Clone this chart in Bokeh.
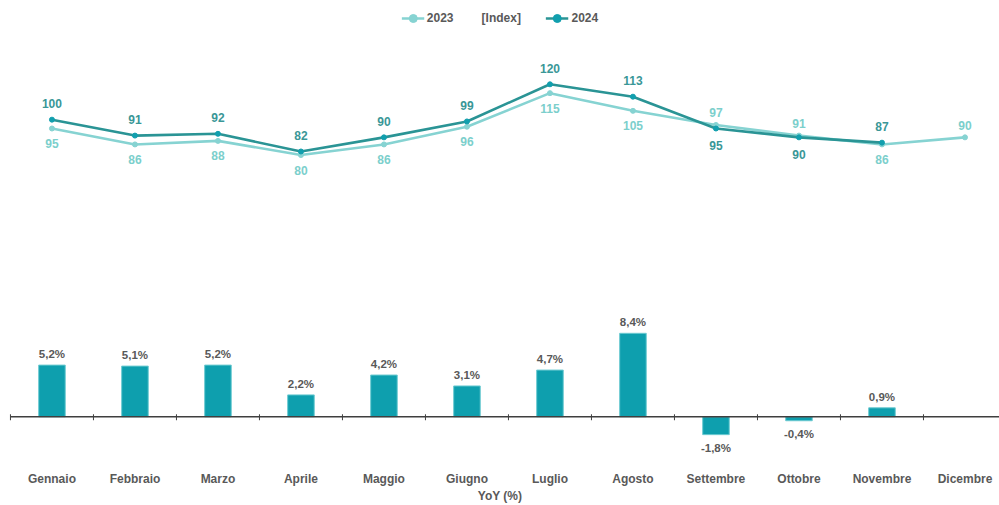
from bokeh.plotting import figure
from bokeh.models import (Range1d, LinearAxis, FixedTicker, Legend, LegendItem,
                          ColumnDataSource, Label)
from bokeh.core.properties import value
from bokeh.embed import file_html
from bokeh.resources import INLINE

# ---------------- data ----------------
months = ["Gennaio", "Febbraio", "Marzo", "Aprile", "Maggio", "Giugno",
          "Luglio", "Agosto", "Settembre", "Ottobre", "Novembre", "Dicembre"]
idx_2023 = [95, 86, 88, 80, 86, 96, 115, 105, 97, 91, 86, 90]
idx_2024 = [100, 91, 92, 82, 90, 99, 120, 113, 95, 90, 87]
yoy = [5.2, 5.1, 5.2, 2.2, 4.2, 3.1, 4.7, 8.4, -1.8, -0.4, 0.9]

# label placement (style)
side_2023 = ["below"] * 8 + ["above", "above", "below", "above"]
side_2024 = ["above"] * 8 + ["below", "below", "above"]

FONT = value("Liberation Sans")
GREY = "#595959"
C23 = "#86d3d2"
C23_TXT = "#7ccfcc"
C24 = "#2a9495"
C24_MK = "#119fae"
C24_TXT = "#3a9797"
BAR = "#0e9fae"

p = figure(width=999, height=505, output_backend="svg", toolbar_location=None,
           x_range=Range1d(-0.620, 11.416), y_range=Range1d(-4.0, 41.9),
           y_axis_type=None, x_axis_type=None)
p.extra_y_ranges = {"idx": Range1d(-90.5, 167.4)}
p.min_border_left = 0
p.min_border_right = 0
p.min_border_top = 0
p.min_border_bottom = 0
p.outline_line_color = None
p.xgrid.visible = False
p.ygrid.visible = False
p.background_fill_color = "white"

# ---------------- x axis (month names) ----------------
xa = LinearAxis(ticker=FixedTicker(ticks=list(range(len(months)))),
                major_label_overrides={i: m for i, m in enumerate(months)})
xa.axis_line_color = None
xa.major_tick_line_color = None
xa.minor_tick_line_color = None
xa.major_label_text_font = "Liberation Sans"
xa.major_label_text_font_style = "bold"
xa.major_label_text_font_size = "12px"
xa.major_label_text_color = GREY
xa.major_label_standoff = 9
xa.axis_label = "YoY (%)"
xa.axis_label_text_font = "Liberation Sans"
xa.axis_label_text_font_style = "bold"
xa.axis_label_text_font_size = "12px"
xa.axis_label_text_color = GREY
xa.axis_label_standoff = 0
p.add_layout(xa, "below")

# ---------------- bars ----------------
n_b = len(yoy)
bx = list(range(n_b))
bar_src = ColumnDataSource(dict(
    x=bx, top=yoy,
    lab=[f"{v:.1f}".replace(".", ",") + "%" for v in yoy],
    off=[-11 if v >= 0 else 13 for v in yoy]))
p.vbar(x="x", top="top", bottom=0, width=0.32, source=bar_src,
       fill_color=BAR, line_color="#6ccad1", line_width=1)
p.text(x="x", y="top", text="lab", y_offset="off", source=bar_src,
       text_font=FONT, text_font_style="bold", text_font_size="11.5px",
       text_color=GREY, text_align="center", text_baseline="middle")

# zero line with boundary ticks
nm = len(months)
p.segment(x0=[-0.5], y0=[0], x1=[nm - 0.5], y1=[0], line_color="#3f3f3f", line_width=1.3)
bounds = [i - 0.5 for i in range(nm + 1)]
p.segment(x0=bounds, y0=[0.25] * len(bounds), x1=bounds, y1=[-0.35] * len(bounds),
          line_color="#3f3f3f", line_width=1)

# ---------------- lines ----------------
x23 = list(range(len(idx_2023)))
x24 = list(range(len(idx_2024)))
l23 = p.line(x23, idx_2023, y_range_name="idx", line_color=C23, line_width=2.6)
m23 = p.scatter(x23, idx_2023, y_range_name="idx", size=5, fill_color=C23,
                line_color=C23)
l24 = p.line(x24, idx_2024, y_range_name="idx", line_color=C24, line_width=2.6)
m24 = p.scatter(x24, idx_2024, y_range_name="idx", size=5, fill_color=C24_MK,
                line_color=C24_MK)

src23 = ColumnDataSource(dict(x=x23, y=idx_2023, lab=[str(v) for v in idx_2023],
                              off=[15 if s == "below" else -12 for s in side_2023]))
src24 = ColumnDataSource(dict(x=x24, y=idx_2024, lab=[str(v) for v in idx_2024],
                              off=[17 if s == "below" else -16 for s in side_2024]))
p.text(x="x", y="y", text="lab", y_offset="off", source=src23, y_range_name="idx",
       text_font=FONT, text_font_style="bold", text_font_size="12px",
       text_color=C23_TXT, text_align="center", text_baseline="middle")
p.text(x="x", y="y", text="lab", y_offset="off", source=src24, y_range_name="idx",
       text_font=FONT, text_font_style="bold", text_font_size="12px",
       text_color=C24_TXT, text_align="center", text_baseline="middle")

# ---------------- legend ----------------
legend = Legend(items=[LegendItem(label="2023", renderers=[l23, m23]),
                       LegendItem(label="2024", renderers=[l24, m24])],
                location="top_center", orientation="horizontal",
                spacing=92, glyph_width=23, label_standoff=3, padding=0, margin=8,
                border_line_color=None, background_fill_alpha=0,
                label_text_font="Liberation Sans", label_text_font_style="bold",
                label_text_font_size="12px", label_text_color=GREY)
p.add_layout(legend, "center")

xr = p.x_range
p.add_layout(Label(x=(xr.start + xr.end) / 2 + 0.015, y=157.3, y_range_name="idx",
                   text="[Index]", text_font="Liberation Sans", text_font_style="bold",
                   text_font_size="12px", text_color=GREY, text_align="center",
                   text_baseline="middle"))

open("out.html", "w").write(file_html(p, INLINE))
